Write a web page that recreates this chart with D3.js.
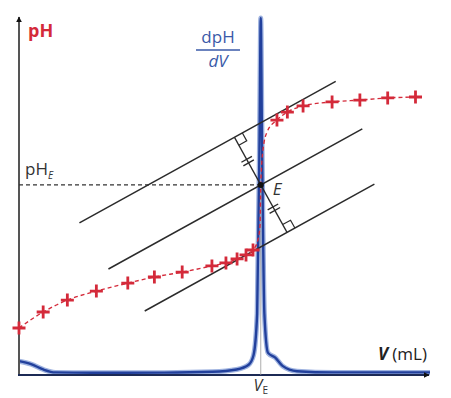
<!DOCTYPE html>
<html>
<head>
<meta charset="utf-8">
<script src="https://cdn.jsdelivr.net/npm/d3@7"></script>
<style>
  body { margin: 0; background: #fff; }
  svg { display: block; font-family: "Open Sans", "DejaVu Sans", sans-serif; }
</style>
</head>
<body>
<svg id="chart" width="451" height="398"></svg>
<script>
// titration: pH points (crosses)
var crossVolumes = [0, 1.0, 2.0, 3.2, 4.5, 5.6, 6.75, 7.98, 8.56, 9.02, 9.39, 9.68,
                    10.67, 11.1, 11.75, 12.95, 14.1, 15.25, 16.4];
var crossPH = [2.0, 2.68, 3.19, 3.57, 3.91, 4.17, 4.38, 4.64, 4.77, 4.94, 5.11, 5.32,
               10.85, 11.19, 11.45, 11.62, 11.7, 11.79, 11.83];
// points read on the dashed curve inside the jump (no cross drawn)
var jumpVolumes = [9.88, 9.97, 10.0, 10.09, 10.26];
var jumpPH = [5.74, 6.38, 8.09, 9.57, 10.34];

// derivative dpH/dV (arbitrary units)
var derivVolumes = [0, 0.5, 1.0, 1.5, 3, 6, 8, 9, 9.5, 9.7, 9.85, 9.95, 10.0,
                    10.05, 10.15, 10.3, 10.6, 10.9, 11.5, 13, 17];
var derivValues = [1.0, 0.75, 0.3, 0.05, 0.02, 0.03, 0.1, 0.3, 0.7, 1.5, 5, 20, 30,
                   20, 5, 1.7, 1.3, 0.6, 0.15, 0.05, 0.05];

// equivalence point
var vE = 10.0, pHE = 8.09;

// the three parallel lines (pH units per mL, offsets in pH, volume extents)
var tangentSlope = 0.568;
var tangentOffsets = [2.64, 0, -2.64];
var tangentStarts = [2.5, 3.7, 5.2];
var tangentEnds = [13.1, 14.2, 14.7];

var svg = d3.select("#chart");

var x = d3.scaleLinear().domain([0, 17]).range([19, 430]),
    y = d3.scaleLinear().domain([0, 15]).range([375, 22.5]),
    yD = d3.scaleLinear().domain([0, 30]).range([373, 18]);

var red = "#d42a3a", blue = "#22409c", ink = "#2b2b2b";

var defs = svg.append("defs");
defs.append("marker")
    .attr("id", "arrow")
    .attr("viewBox", "0 0 10 10")
    .attr("refX", 9).attr("refY", 5)
    .attr("markerWidth", 6).attr("markerHeight", 6)
    .attr("markerUnits", "userSpaceOnUse")
    .attr("orient", "auto")
    .append("path")
    .attr("d", "M0,0 L10,5 L0,10 Z")
    .attr("fill", "#111");

// derivative curve
var derivData = derivVolumes.map(function(v, i) { return [v, derivValues[i]]; });
var derivLine = d3.line()
        .x(function(d) { return x(d[0]); })
        .y(function(d) { return yD(d[1]); })
        .curve(d3.curveMonotoneX);

svg.append("path")
    .datum(derivData)
    .attr("d", derivLine)
    .attr("fill", "none")
    .attr("stroke", "#9fb3e0")
    .attr("stroke-width", 5);
svg.append("path")
    .datum(derivData)
    .attr("d", derivLine)
    .attr("fill", "none")
    .attr("stroke", blue)
    .attr("stroke-width", 2.4);

// axes
svg.append("line")
    .attr("x1", x(0)).attr("y1", y(0))
    .attr("x2", x(0)).attr("y2", 17)
    .attr("stroke", "#555").attr("stroke-width", 2)
    .attr("marker-end", "url(#arrow)");
svg.append("line")
    .attr("x1", x(0) - 1).attr("y1", y(0))
    .attr("x2", 429).attr("y2", y(0))
    .attr("stroke", "#1c2a55").attr("stroke-width", 2.2)
    .attr("marker-end", "url(#arrow)");

// vertical at V_E and dashed pH_E
svg.append("line")
    .attr("x1", x(vE)).attr("y1", y(pHE))
    .attr("x2", x(vE)).attr("y2", y(0))
    .attr("stroke", "#999").attr("stroke-width", 0.8);
svg.append("line")
    .attr("x1", x(0)).attr("y1", y(pHE))
    .attr("x2", x(vE)).attr("y2", y(pHE))
    .attr("stroke", "#333").attr("stroke-width", 1.2)
    .attr("stroke-dasharray", "4,3");

// parallel lines
var tangents = tangentOffsets.map(function(o, i) {
    var f = function(v) { return pHE + tangentSlope * (v - vE) + o; };
    return { x1: x(tangentStarts[i]), y1: y(f(tangentStarts[i])),
             x2: x(tangentEnds[i]), y2: y(f(tangentEnds[i])) };
});
svg.selectAll(".tangent")
    .data(tangents)
    .enter().append("line")
    .attr("class", "tangent")
    .attr("x1", function(d) { return d.x1; })
    .attr("y1", function(d) { return d.y1; })
    .attr("x2", function(d) { return d.x2; })
    .attr("y2", function(d) { return d.y2; })
    .attr("stroke", ink).attr("stroke-width", 1.5);

// perpendicular through E, in pixel space
var ex = x(vE), ey = y(pHE),
    t = tangents[1],
    len = Math.hypot(t.x2 - t.x1, t.y2 - t.y1),
    ux = (t.x2 - t.x1) / len, uy = (t.y2 - t.y1) / len,   // along lines
    px = -uy, py = ux;                                      // perpendicular (down-right)
if (py < 0) { px = -px; py = -py; }
var gap = (y(0) - y(tangentOffsets[0])) * Math.abs(ux);   // perpendicular distance
var upper = [ex - px * gap, ey - py * gap],
    lower = [ex + px * gap, ey + py * gap];

svg.append("line")
    .attr("x1", upper[0]).attr("y1", upper[1])
    .attr("x2", lower[0]).attr("y2", lower[1])
    .attr("stroke", ink).attr("stroke-width", 1.3);

// right angle marks
var s = 9;
function square(foot, dir) {
    return "M" + (foot[0] + ux * s) + "," + (foot[1] + uy * s) +
        " L" + (foot[0] + ux * s + dir * px * s) + "," + (foot[1] + uy * s + dir * py * s) +
        " L" + (foot[0] + dir * px * s) + "," + (foot[1] + dir * py * s);
}
svg.append("path").attr("d", square(upper, 1))
    .attr("fill", "none").attr("stroke", ink).attr("stroke-width", 1.2);
svg.append("path").attr("d", square(lower, -1))
    .attr("fill", "none").attr("stroke", ink).attr("stroke-width", 1.2);

// equal-length ticks on both halves
[0.5, -0.5].forEach(function(k) {
    var mx = ex - px * gap * k, my = ey - py * gap * k;
    [-2, 2].forEach(function(o) {
        var cx = mx + px * o, cy = my + py * o;
        svg.append("line")
            .attr("x1", cx - ux * 6).attr("y1", cy - uy * 6)
            .attr("x2", cx + ux * 6).attr("y2", cy + uy * 6)
            .attr("stroke", ink).attr("stroke-width", 1.4);
    });
});

// pH dashed curve
var phData = crossVolumes.map(function(v, i) { return [v, crossPH[i]]; })
        .concat(jumpVolumes.map(function(v, i) { return [v, jumpPH[i]]; }))
        .sort(function(a, b) { return a[0] - b[0]; });
svg.append("path")
    .datum(phData)
    .attr("d", d3.line()
          .x(function(d) { return x(d[0]); })
          .y(function(d) { return y(d[1]); })
          .curve(d3.curveMonotoneX))
    .attr("fill", "none")
    .attr("stroke", red)
    .attr("stroke-width", 1.4)
    .attr("stroke-dasharray", "4,3");

// crosses
var cross = svg.selectAll(".cross")
        .data(crossVolumes.map(function(v, i) { return [v, crossPH[i]]; }))
        .enter().append("g")
        .attr("class", "cross")
        .attr("transform", function(d) {
            return "translate(" + x(d[0]) + "," + y(d[1]) + ")";
        });
cross.append("path")
    .attr("d", "M-6.5,0 H6.5 M0,-6.5 V6.5")
    .attr("stroke", red)
    .attr("stroke-width", 2.8);

// point E
svg.append("circle")
    .attr("cx", ex).attr("cy", ey).attr("r", 3)
    .attr("fill", "#111");

// labels
svg.append("text")
    .attr("x", 28).attr("y", 37)
    .attr("fill", red)
    .attr("font-size", 18).attr("font-weight", "bold")
    .text("pH");

var phE = svg.append("text")
    .attr("x", 25).attr("y", 175)
    .attr("fill", "#333").attr("font-size", 17);
phE.append("tspan").text("pH");
phE.append("tspan").attr("font-size", 10).attr("dy", 4).attr("font-style", "italic").text("E");

svg.append("text")
    .attr("x", ex + 12).attr("y", ey + 10)
    .attr("fill", "#333").attr("font-size", 17).attr("font-style", "italic")
    .text("E");

var dLabel = svg.append("g")
        .attr("fill", "#3a5aa8")
        .attr("font-size", 17)
        .attr("text-anchor", "middle");
dLabel.append("text").attr("x", 218).attr("y", 43).text("dpH");
dLabel.append("line")
    .attr("x1", 196).attr("x2", 240).attr("y1", 50).attr("y2", 50)
    .attr("stroke", "#3a5aa8").attr("stroke-width", 1.3);
dLabel.append("text").attr("x", 218).attr("y", 67)
    .attr("font-style", "italic").text("dV");

var vLabel = svg.append("text")
    .attr("x", 427).attr("y", 360)
    .attr("text-anchor", "end")
    .attr("fill", "#222").attr("font-size", 17);
vLabel.append("tspan").attr("font-weight", "bold").attr("font-style", "italic").text("V");
vLabel.append("tspan").text(" (mL)");

var veLabel = svg.append("text")
    .attr("x", ex).attr("y", 391)
    .attr("text-anchor", "middle")
    .attr("fill", "#333").attr("font-size", 16);
veLabel.append("tspan").attr("font-style", "italic").text("V");
veLabel.append("tspan").attr("font-size", 10).attr("dy", 3).text("E");
</script>
</body>
</html>
